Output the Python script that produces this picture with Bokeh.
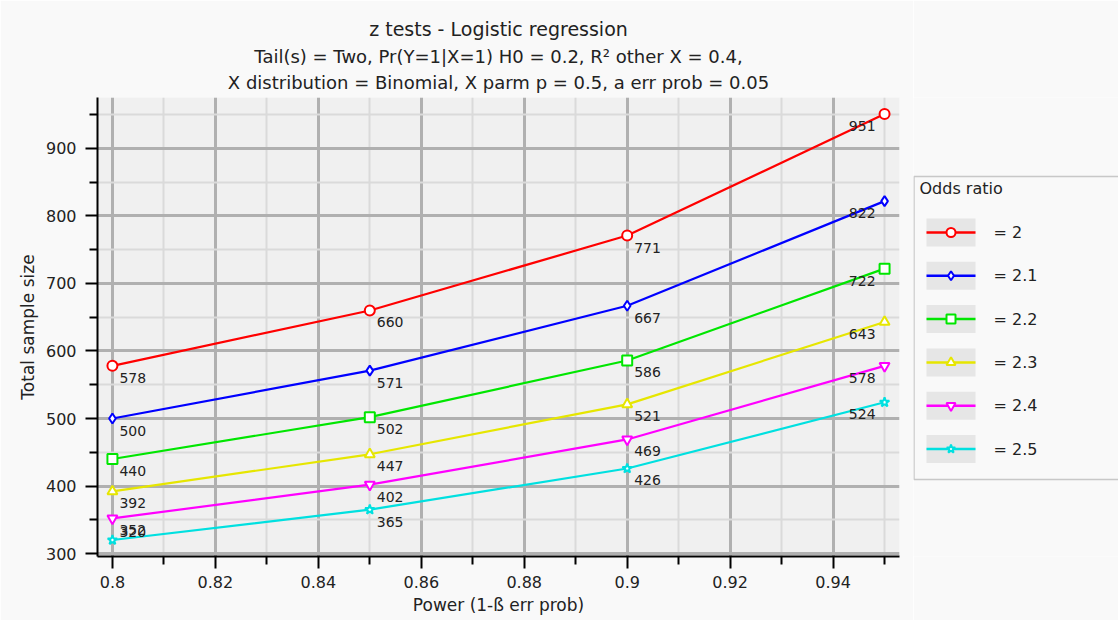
from bokeh.plotting import figure
from bokeh.layouts import row
from bokeh.models import ColumnDataSource, Range1d, FixedTicker, Title
from bokeh.embed import file_html
from bokeh.resources import INLINE
from bokeh.core.properties import value

# ---------------- data ----------------
power = [0.80, 0.85, 0.90, 0.95]
odds_ratios = ["2", "2.1", "2.2", "2.3", "2.4", "2.5"]
n_or_2_0 = [578, 660, 771, 951]
n_or_2_1 = [500, 571, 667, 822]
n_or_2_2 = [440, 502, 586, 722]
n_or_2_3 = [392, 447, 521, 643]
n_or_2_4 = [352, 402, 469, 578]
n_or_2_5 = [320, 365, 426, 524]
x_ticks = [0.80, 0.82, 0.84, 0.86, 0.88, 0.90, 0.92, 0.94]
x_tick_labels = ["0.8", "0.82", "0.84", "0.86", "0.88", "0.9", "0.92", "0.94"]
x_minor_ticks = [0.81, 0.83, 0.85, 0.87, 0.89, 0.91, 0.93, 0.95]
y_ticks = [300, 400, 500, 600, 700, 800, 900]
y_minor_ticks = [350, 450, 550, 650, 750, 850, 950]

series = [n_or_2_0, n_or_2_1, n_or_2_2, n_or_2_3, n_or_2_4, n_or_2_5]
colors = ["#ff0000", "#0000ff", "#00e600", "#e6e600", "#ff00ff", "#00e0e0"]
markers = ["circle", "diamond", "square", "triangle", "inverted_triangle", "star"]

FONT = "DejaVu Sans"
TXT = "#222222"
PANEL = "#f9f9f9"
H = 620
TOP, BOTTOM = 97, 64           # borders around the plotting frame

# ---------------- main chart ----------------
p = figure(width=913, height=H, output_backend="svg", toolbar_location=None,
           x_range=Range1d(0.7971, 0.9529), y_range=Range1d(295.6, 975.5),
           min_border_left=97, min_border_right=14, min_border_top=TOP, min_border_bottom=BOTTOM)
p.background_fill_color = "#f0f0f0"
p.border_fill_color = PANEL
p.outline_line_color = None

# titles (stacked from the frame outward)
p.add_layout(Title(text="X distribution = Binomial, X parm p = 0.5, a err prob = 0.05",
                   align="center", vertical_align="top", text_font=FONT, text_font_size="18px",
                   text_line_height=1.0, text_font_style="normal", text_color=TXT,
                   standoff=5), "above")
p.add_layout(Title(text="Tail(s) = Two, Pr(Y=1|X=1) H0 = 0.2, R² other X = 0.4,",
                   align="center", text_font=FONT, text_font_size="18px",
                   text_line_height=1.0, text_font_style="normal", text_color=TXT,
                   standoff=5), "above")
p.add_layout(Title(text="z tests - Logistic regression",
                   align="center", text_font=FONT, text_font_size="19px",
                   text_line_height=1.0, text_font_style="normal", text_color=TXT,
                   standoff=4), "above")

# axes
p.xaxis.ticker = FixedTicker(ticks=x_ticks, minor_ticks=x_minor_ticks)
p.xaxis.major_label_overrides = {t: l for t, l in zip(x_ticks, x_tick_labels)}
p.yaxis.ticker = FixedTicker(ticks=y_ticks, minor_ticks=y_minor_ticks)
p.xaxis.axis_label = "Power (1-ß err prob)"
p.yaxis.axis_label = "Total sample size"
for ax in (p.xaxis, p.yaxis):
    ax.axis_line_color = "black"
    ax.axis_line_width = 2
    ax.major_tick_line_color = "black"
    ax.major_tick_line_width = 2
    ax.minor_tick_line_color = "black"
    ax.minor_tick_line_width = 2
    ax.major_tick_out = 12
    ax.major_tick_in = 0
    ax.minor_tick_out = 8
    ax.minor_tick_in = 0
    ax.major_label_text_font = FONT
    ax.major_label_text_font_size = "16px"
    ax.major_label_text_color = TXT
    ax.axis_label_text_font = FONT
    ax.axis_label_text_font_size = "17px"
    ax.axis_label_text_font_style = "normal"
    ax.axis_label_text_color = TXT
p.xaxis.major_label_standoff = 7
p.yaxis.major_label_standoff = 9
p.xaxis.axis_label_standoff = 4
p.yaxis.axis_label_standoff = 5

for g in (p.xgrid, p.ygrid):
    g.grid_line_color = "#b0b0b0"
    g.grid_line_width = 3
    g.minor_grid_line_color = "#dadada"
    g.minor_grid_line_width = 2

for vals, c, m in zip(series, colors, markers):
    p.line(power, vals, line_color=c, line_width=2.2)
    p.scatter(power, vals, marker=m, size=10, line_color=c, line_width=2, fill_color="white")

# data labels
lx, ly, lt, lyo = [], [], [], []
rx, ry, rt = [], [], []
for si, vals in enumerate(series):
    for i, (x, y) in enumerate(zip(power, vals)):
        if i < len(power) - 1:
            lx.append(x); ly.append(y); lt.append(str(y))
            # lowest first label is pushed up so it stays inside the frame
            lyo.append(-8 if (si == len(series) - 1 and i == 0) else 12)
        else:
            rx.append(x); ry.append(y); rt.append(str(y))

src_l = ColumnDataSource(dict(x=lx, y=ly, text=lt, yoff=lyo))
src_r = ColumnDataSource(dict(x=rx, y=ry, text=rt))
p.text(x="x", y="y", text="text", source=src_l, x_offset=7, y_offset="yoff",
       text_align="left", text_baseline="middle", text_font=value(FONT),
       text_font_size="14px", text_color=TXT)
p.text(x="x", y="y", text="text", source=src_r, x_offset=-9, y_offset=12,
       text_align="right", text_baseline="middle", text_font=value(FONT),
       text_font_size="14px", text_color=TXT)

# ---------------- legend panel (page-pixel coordinates, y downward) ----------------
LW = 205
lg = figure(width=LW, height=H, output_backend="svg", toolbar_location=None,
            x_range=Range1d(0, LW), y_range=Range1d(H - BOTTOM, TOP),
            x_axis_type=None, y_axis_type=None,
            min_border_left=0, min_border_right=0, min_border_top=TOP, min_border_bottom=BOTTOM)
lg.grid.visible = False
lg.outline_line_color = None
lg.background_fill_color = PANEL
lg.border_fill_color = PANEL

box_top, box_bottom = 176, 479
lg.quad(left=[0.5], right=[LW + 10], top=[box_top], bottom=[box_bottom],
        fill_color=PANEL, line_color="#c8c8c8", line_width=1.5)
lg.text(x=[6], y=[188], text=["Odds ratio"], text_font=value(FONT), text_font_size="16px",
        text_color=TXT, text_align="left", text_baseline="middle")

n = len(odds_ratios)
cy = [232 + 43.3 * i for i in range(n)]
leg_src = ColumnDataSource(dict(
    y=cy, label=["= " + o for o in odds_ratios], color=colors, marker=markers,
    xc=[37.5] * n, x0=[13] * n, x1=[62] * n, xl=[80] * n))
lg.rect(x="xc", y="y", width=49, height=28, source=leg_src, fill_color="#e6e6e6", line_color=None)
lg.segment(x0="x0", y0="y", x1="x1", y1="y", source=leg_src, line_color="color", line_width=2.5)
lg.scatter(x="xc", y="y", marker="marker", source=leg_src, size=9, line_color="color",
           line_width=2, fill_color="white")
lg.text(x="xl", y="y", text="label", source=leg_src, text_font=value(FONT),
        text_font_size="16px", text_color=TXT, text_align="left", text_baseline="middle")

layout = row(p, lg, spacing=0)
open("out.html", "w").write(file_html(layout, INLINE))
